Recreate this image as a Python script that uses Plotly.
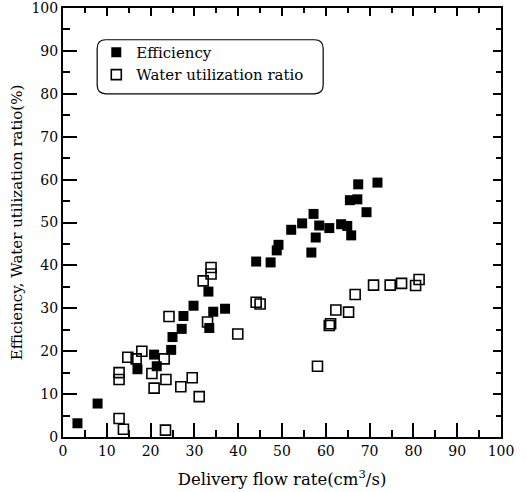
import plotly.graph_objects as go

# Efficiency (filled squares)
eff_x = [3.3, 7.9, 17.0, 20.8, 21.4, 24.7, 25.0, 27.1, 27.5, 29.8, 33.2, 33.4, 34.3, 37.0,
         44.1, 47.4, 48.8, 49.2, 52.1, 54.6, 56.7, 57.2, 57.7, 58.5, 60.8, 63.5, 64.9,
         65.5, 67.2, 65.8, 67.4, 69.3, 71.8]
eff_y = [3.2, 7.8, 15.8, 19.2, 16.5, 20.3, 23.3, 25.2, 28.2, 30.6, 33.9, 25.4, 29.2, 29.9,
         40.9, 40.7, 43.5, 44.8, 48.3, 49.8, 43.0, 52.0, 46.5, 49.3, 48.7, 49.6, 49.2,
         55.2, 55.4, 47.0, 58.9, 52.4, 59.3]

# Water utilization ratio (open squares)
wur_x = [12.8, 13.8, 12.8, 12.8, 14.8, 16.7, 18.0, 20.3, 20.8, 23.1, 23.4, 23.5, 24.2,
         26.9, 29.5, 31.1, 32.0, 33.8, 33.8, 33.0, 39.9, 44.1, 45.0,
         58.1, 60.8, 61.1, 62.3, 65.2, 66.7, 70.9, 74.7, 77.3, 80.5, 81.3]
wur_y = [4.3, 1.8, 15.0, 13.4, 18.6, 18.2, 20.0, 14.8, 11.4, 18.2, 1.6, 13.4, 28.1,
         11.7, 13.8, 9.4, 36.4, 38.0, 39.5, 26.8, 24.0, 31.4, 31.0,
         16.5, 26.0, 26.4, 29.6, 29.1, 33.2, 35.4, 35.4, 35.8, 35.3, 36.7]

# axis ticks (both axes 0..100)
major_ticks = list(range(0, 101, 10))
AX_MIN, AX_MAX = 0, 100

FONT = "DejaVu Serif"

fig = go.Figure()
fig.add_trace(go.Scatter(
    x=eff_x, y=eff_y, mode="markers", name="Efficiency", legendgroup="a",
    marker=dict(symbol="square", size=10, color="black", line=dict(width=0))))
fig.add_trace(go.Scatter(
    x=wur_x, y=wur_y, mode="markers", name="Water utilization ratio", legendgroup="b",
    marker=dict(symbol="square-open", size=10, color="black", line=dict(width=1.6))))
# empty trace that carries the top/right frame axes
fig.add_trace(go.Scatter(x=[], y=[], xaxis="x2", yaxis="y2", showlegend=False,
                         hoverinfo="skip"))

base = dict(range=[AX_MIN, AX_MAX], tickmode="array", tickvals=major_ticks,
            showgrid=False, zeroline=False, automargin=False,
            showline=True, linewidth=2, linecolor="black")
main_ticks = dict(ticks="inside", ticklen=14, tickwidth=1.8, tickcolor="black",
                  tickfont=dict(family=FONT, size=14, color="black"),
                  minor=dict(ticks="inside", ticklen=7, tickwidth=1.5,
                             tickcolor="black", tick0=5, dtick=10))
frame_ticks = dict(ticks="inside", ticklen=8, tickwidth=1.8, tickcolor="black",
                   showticklabels=False,
                   minor=dict(ticks="inside", ticklen=5, tickwidth=1.5,
                              tickcolor="black", tick0=5, dtick=10))

fig.update_layout(
    template="none",
    width=525, height=492,
    margin=dict(l=63, r=24, t=8, b=55),
    paper_bgcolor="white", plot_bgcolor="white",
    xaxis=dict(**base, **main_ticks,
               title=dict(text="Delivery flow rate(cm<sup>3</sup>/s)",
                          font=dict(family=FONT, size=16.5, color="black"), standoff=16)),
    yaxis=dict(**base, **main_ticks, ticklabeloverflow="allow",
               title=dict(text="Efficiency, Water utilization ratio(%)",
                          font=dict(family=FONT, size=15, color="black"), standoff=5)),
    xaxis2=dict(**base, **frame_ticks, overlaying="x", side="top", anchor="y2"),
    yaxis2=dict(**base, **frame_ticks, overlaying="y", side="right", anchor="x2"),
    showlegend=True,
    legend=dict(x=0.076, y=0.935, xanchor="left", yanchor="top",
                font=dict(family=FONT, size=15, color="black"),
                bgcolor="rgba(0,0,0,0)", borderwidth=0, tracegroupgap=0),
)

# rounded legend frame
x0, x1, y0, y1, r = 0.078, 0.594, 0.800, 0.926, 0.02
ry = r * 438 / 431
path = (f"M {x0+r},{y1} L {x1-r},{y1} Q {x1},{y1} {x1},{y1-ry} "
        f"L {x1},{y0+ry} Q {x1},{y0} {x1-r},{y0} L {x0+r},{y0} "
        f"Q {x0},{y0} {x0},{y0+ry} L {x0},{y1-ry} Q {x0},{y1} {x0+r},{y1} Z")
fig.add_shape(type="path", path=path, xref="paper", yref="paper",
              line=dict(color="black", width=1.2))

fig.write_html("out.html")
